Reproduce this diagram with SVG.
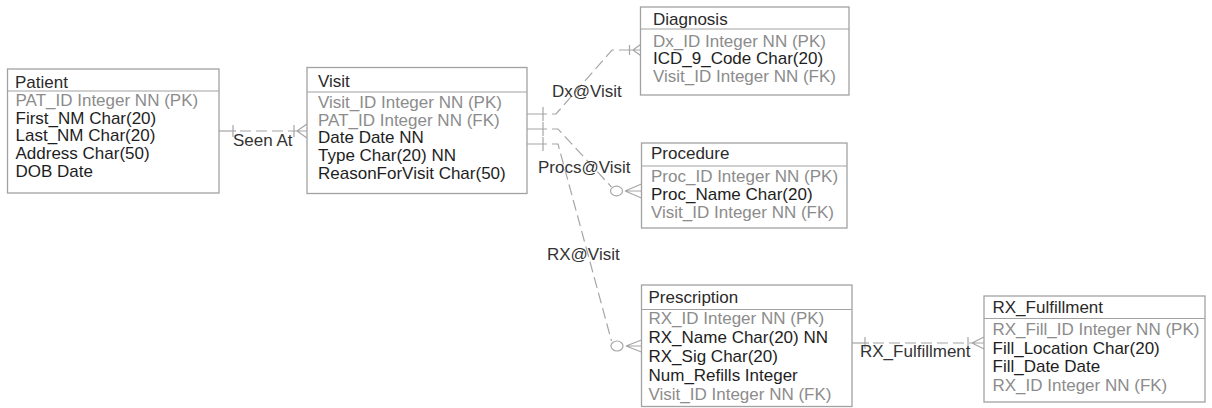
<svg xmlns="http://www.w3.org/2000/svg" width="1212" height="408" viewBox="0 0 1212 408">
  <style>
    text { font-family: "Liberation Sans", Arial, sans-serif; font-size: 17px; }
    .box { fill: #ffffff; stroke: #a2a2a2; stroke-width: 1.3; }
    .div { stroke: #a2a2a2; stroke-width: 1.2; }
    .title { fill: #2a2a2a; }
    .key { fill: #8c8c8c; }
    .att { fill: #1e1e1e; }
    .rel { fill: none; stroke: #a6a6a6; stroke-width: 1.2; }
    .dash { stroke-dasharray: 11 5; }
    .lbl { fill: #333333; }
  </style>

  <rect width="1212" height="408" fill="#ffffff"/>

  <!-- relationship lines -->
  <g id="connectors">
    <!-- Patient to Visit: Seen At -->
    <path class="rel" d="M219,131 H236"/>
    <path class="rel dash" d="M240,131 H297"/>
    <path class="rel" d="M233,125 V137 M294,125 V137 M297,131 L307,124 M297,131 H307 M297,131 L307,138"/>
    <text class="lbl" x="233" y="145.5">Seen At</text>

    <!-- stubs leaving Visit -->
    <path class="rel" d="M527,114 H547 M527,129 H547 M527,144 H547"/>
    <path class="rel" d="M543,107 V121 M543,122 V136 M543,137 V151"/>

    <!-- Visit to Diagnosis: Dx@Visit -->
    <path class="rel dash" d="M552,114 H556 L612,50 H625"/>
    <path class="rel" d="M625,50 H640 M629.5,45 V55 M633,50 L640.5,44.5 M633,50 H640.5 M633,50 L640.5,55.5"/>
    <text class="lbl" x="552" y="97">Dx@Visit</text>

    <!-- Visit to Procedure: Procs@Visit -->
    <path class="rel dash" d="M552,129 H558 L611.5,187"/>
    <ellipse class="rel" cx="616.5" cy="191" rx="6" ry="4.8"/>
    <path class="rel" d="M625,191 L641.5,184 M625,191 H641.5 M625,191 L641.5,198"/>
    <text class="lbl" x="538" y="173">Procs@Visit</text>

    <!-- Visit to Prescription: RX@Visit -->
    <path class="rel dash" d="M552,144 H558 L611.5,341"/>
    <ellipse class="rel" cx="617" cy="346" rx="6" ry="5"/>
    <path class="rel" d="M626,346 L641.5,340 M626,346 H641.5 M626,346 L641.5,352"/>
    <text class="lbl" x="547" y="260">RX@Visit</text>

    <!-- Prescription to RX_Fulfillment -->
    <path class="rel" d="M852,343 H869"/>
    <path class="rel dash" d="M873,343 H972"/>
    <path class="rel" d="M865,337 V349 M968,337 V349 M972,343 L984,337 M972,343 H984 M972,343 L984,349"/>
    <text class="lbl" x="860" y="357">RX_Fulfillment</text>
  </g>

  <g id="patient">
    <rect class="box" x="7.5" y="69" width="211.5" height="124"/>
    <line class="div" x1="7.5" y1="91" x2="219" y2="91"/>
    <text class="title" x="15" y="87.7">Patient</text>
    <text class="key" x="15.5" y="106">PAT_ID Integer NN (PK)</text>
    <text class="att" x="15.5" y="123.7">First_NM Char(20)</text>
    <text class="att" x="15.5" y="141.4">Last_NM Char(20)</text>
    <text class="att" x="15.5" y="159.1">Address Char(50)</text>
    <text class="att" x="15.5" y="176.8">DOB Date</text>
  </g>

  <g id="visit">
    <rect class="box" x="307" y="67.5" width="220" height="126"/>
    <line class="div" x1="307" y1="92" x2="527" y2="92"/>
    <text class="title" x="318" y="86.7">Visit</text>
    <text class="key" x="318" y="107.7">Visit_ID Integer NN (PK)</text>
    <text class="key" x="318" y="125.5">PAT_ID Integer NN (FK)</text>
    <text class="att" x="318" y="143.3">Date Date NN</text>
    <text class="att" x="318" y="161">Type Char(20) NN</text>
    <text class="att" x="318" y="178.8">ReasonForVisit Char(50)</text>
  </g>

  <g id="diagnosis">
    <rect class="box" x="640.5" y="7" width="208.5" height="88"/>
    <line class="div" x1="640.5" y1="29" x2="849" y2="29"/>
    <text class="title" x="653" y="25">Diagnosis</text>
    <text class="key" x="653" y="46.7">Dx_ID Integer NN (PK)</text>
    <text class="att" x="653" y="64.4">ICD_9_Code Char(20)</text>
    <text class="key" x="653" y="82.1">Visit_ID Integer NN (FK)</text>
  </g>

  <g id="procedure">
    <rect class="box" x="641.5" y="143" width="205.5" height="85"/>
    <line class="div" x1="641.5" y1="166" x2="847" y2="166"/>
    <text class="title" x="651" y="159.3">Procedure</text>
    <text class="key" x="651" y="181.7">Proc_ID Integer NN (PK)</text>
    <text class="att" x="651" y="199.7">Proc_Name Char(20)</text>
    <text class="key" x="651" y="217.5">Visit_ID Integer NN (FK)</text>
  </g>

  <g id="prescription">
    <rect class="box" x="641.5" y="285" width="210.5" height="121.5"/>
    <line class="div" x1="641.5" y1="309.5" x2="852" y2="309.5"/>
    <text class="title" x="648.5" y="303.3">Prescription</text>
    <text class="key" x="648.5" y="324.3">RX_ID Integer NN (PK)</text>
    <text class="att" x="648.5" y="343.2">RX_Name Char(20) NN</text>
    <text class="att" x="648.5" y="362">RX_Sig Char(20)</text>
    <text class="att" x="648.5" y="381">Num_Refills Integer</text>
    <text class="key" x="648.5" y="400">Visit_ID Integer NN (FK)</text>
  </g>

  <g id="rx_fulfillment">
    <rect class="box" x="984" y="296" width="221" height="106"/>
    <line class="div" x1="984" y1="318.5" x2="1205" y2="318.5"/>
    <text class="title" x="992.5" y="313.3">RX_Fulfillment</text>
    <text class="key" x="992.5" y="335">RX_Fill_ID Integer NN (PK)</text>
    <text class="att" x="992.5" y="353.5">Fill_Location Char(20)</text>
    <text class="att" x="992.5" y="372">Fill_Date Date</text>
    <text class="key" x="992.5" y="390.5">RX_ID Integer NN (FK)</text>
  </g>
</svg>
